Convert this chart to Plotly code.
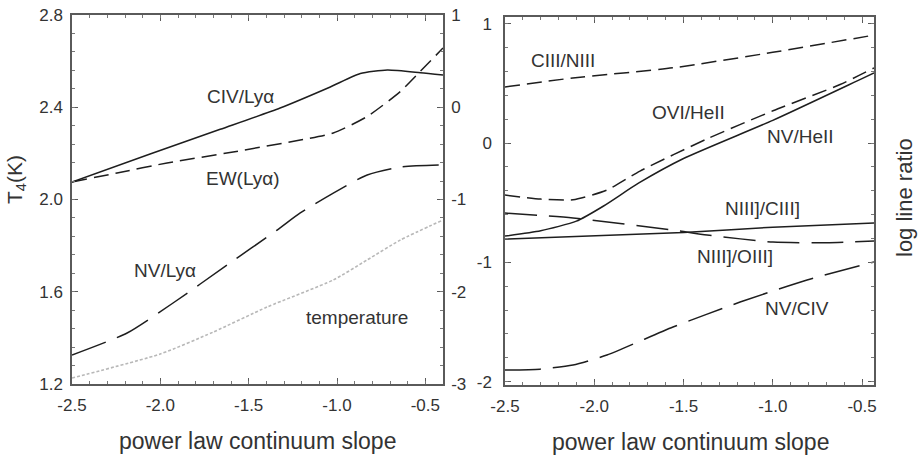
import plotly.graph_objects as go

# ---------------- data ----------------
# Left panel (x = power law continuum slope)
civ_x = [-2.5, -2.058, -1.661, -1.322, -1.038, -0.868, -0.715, -0.528, -0.4]
civ_y = [-0.81, -0.507, -0.239, -0.008, 0.22, 0.365, 0.404, 0.375, 0.35]

ew_x = [-2.5, -2.245, -1.962, -1.588, -1.208, -1.021, -0.829, -0.642, -0.528, -0.4]
ew_y = [-0.81, -0.713, -0.604, -0.485, -0.355, -0.279, -0.1, 0.17, 0.39, 0.642]

nvly_x = [-2.5, -2.188, -1.928, -1.622, -1.339, -1.208, -1.021, -0.829, -0.642, -0.4]
nvly_y = [-2.686, -2.447, -2.122, -1.71, -1.331, -1.146, -0.93, -0.734, -0.648, -0.626]

temp_x = [-2.5, -2.001, -1.701, -1.395, -1.021, -0.829, -0.642, -0.4]
temp_y = [1.226, 1.33, 1.425, 1.534, 1.651, 1.738, 1.824, 1.911]

# Right panel
ciii_x = [-2.5, -2.12, -1.56, -1.0, -0.43]
ciii_y = [0.47, 0.545, 0.63, 0.76, 0.905]

ovi_x = [-2.5, -2.3, -2.119, -1.929, -1.744, -1.368, -0.999, -0.623, -0.433]
ovi_y = [-0.436, -0.47, -0.475, -0.394, -0.235, 0.035, 0.27, 0.49, 0.629]

nvhe_x = [-2.5, -2.3, -2.1, -1.95, -1.75, -1.5, -1.0, -0.5, -0.433]
nvhe_y = [-0.78, -0.735, -0.655, -0.53, -0.335, -0.13, 0.19, 0.54, 0.587]

niiic_x = [-2.5, -1.5, -1.0, -0.43]
niiic_y = [-0.805, -0.75, -0.705, -0.67]

niiio_x = [-2.5, -2.119, -1.559, -1.368, -0.999, -0.7, -0.433]
niiio_y = [-0.587, -0.629, -0.729, -0.771, -0.83, -0.835, -0.821]

nvciv_x = [-2.5, -2.304, -2.119, -1.929, -1.559, -1.183, -0.808, -0.433]
nvciv_y = [-1.903, -1.895, -1.861, -1.777, -1.542, -1.333, -1.148, -0.997]

x_ticks = [-2.5, -2.0, -1.5, -1.0, -0.5]
x_ticktext = ["-2.5", "-2.0", "-1.5", "-1.0", "-0.5"]
t4_ticks = [1.2, 1.6, 2.0, 2.4, 2.8]
t4_ticktext = ["1.2", "1.6", "2.0", "2.4", "2.8"]
lr_ticks_left = [-3, -2, -1, 0, 1]
lr_ticktext_left = ["-3", "-2", "-1", "0", "1"]
lr_ticks_right = [-2, -1, 0, 1]
lr_ticktext_right = ["-2", "-1", "0", "1"]

# ---------------- figure ----------------
W, H = 918, 460
FONT = "Liberation Sans, Arial, Helvetica, sans-serif"
LINE = "#1e1e1e"
AX = "#5a5a5a"
TXT = "#333333"

L_X = [-2.5, -0.4]
L_T = [1.2, 2.8]
L_R = [-3, 1]
R_X = [-2.5, -0.433]
R_Y = [-2.028, 1.056]

def px(x):
    return x / W

def py(y):
    return 1 - y / H

fig = go.Figure()

def add(x, y, dash, xa, ya, color=LINE, width=1.5):
    fig.add_trace(go.Scatter(x=x, y=y, mode="lines", xaxis=xa, yaxis=ya,
                             line=dict(color=color, width=width, dash=dash,
                                       shape="spline", smoothing=0.6),
                             hoverinfo="skip", showlegend=False))

add(civ_x, civ_y, "solid", "x", "y2")
add(ew_x, ew_y, "15px,7px", "x", "y2")
add(nvly_x, nvly_y, "36px,12px", "x", "y2")
add(temp_x, temp_y, "3px,2px", "x", "y", color="#b8b8b8", width=1.6)

add(ciii_x, ciii_y, "15px,7px", "x2", "y3")
add(ovi_x, ovi_y, "15px,7px", "x2", "y3")
add(nvhe_x, nvhe_y, "solid", "x2", "y3")
add(niiic_x, niiic_y, "solid", "x2", "y3")
add(niiio_x, niiio_y, "32px,12px", "x2", "y3")
add(nvciv_x, nvciv_y, "36px,12px", "x2", "y3")

tickfont = dict(family=FONT, size=17, color=TXT)

common = dict(showline=True, linecolor=AX, linewidth=1.5, showgrid=False,
              zeroline=False, ticks="inside", ticklen=6, tickcolor=AX,
              tickwidth=1.2, tickfont=tickfont, automargin=False)

def minor_axis(rng, t0, d, **kw):
    return dict(range=rng, tickmode="linear", tick0=t0, dtick=d,
                ticks="inside", ticklen=3, tickcolor="#777777", tickwidth=1,
                showticklabels=False, showline=False, showgrid=False,
                zeroline=False, automargin=False, **kw)

fig.update_layout(
    width=W, height=H,
    margin=dict(l=0, r=0, t=0, b=0, autoexpand=False),
    paper_bgcolor="white", plot_bgcolor="white",
    font=dict(family=FONT, color=TXT),
    xaxis=dict(domain=[px(72), px(443)], range=L_X, anchor="y",
               tickvals=x_ticks, ticktext=x_ticktext, mirror="ticks",
               ticklabelstandoff=5, **common),
    yaxis=dict(domain=[py(384), py(15)], range=L_T, anchor="x",
               tickvals=t4_ticks, ticktext=t4_ticktext,
               ticklabelstandoff=4, **common),
    yaxis2=dict(overlaying="y", side="right", anchor="x", range=L_R,
                tickvals=lr_ticks_left, ticktext=lr_ticktext_left,
                ticklabelstandoff=3, **common),
    xaxis2=dict(domain=[px(505), px(874)], range=R_X, anchor="y3",
                tickvals=x_ticks, ticktext=x_ticktext, mirror="ticks",
                ticklabelstandoff=5, **common),
    yaxis3=dict(domain=[py(385), py(17)], range=R_Y, anchor="x2",
                tickvals=lr_ticks_right, ticktext=lr_ticktext_right, mirror="ticks",
                ticklabelstandoff=8, **common),
    # minor tick overlays
    xaxis3=minor_axis(L_X, -2.5, 0.1, overlaying="x", anchor="y", side="bottom", mirror="ticks"),
    yaxis4=minor_axis(L_T, 1.2, 0.08, overlaying="y", anchor="x", side="left"),
    yaxis5=minor_axis(L_R, -3, 0.2, overlaying="y", anchor="x", side="right"),
    xaxis4=minor_axis(R_X, -2.5, 0.1, overlaying="x2", anchor="y3", side="bottom", mirror="ticks"),
    yaxis6=minor_axis(R_Y, -2, 0.2, overlaying="y3", anchor="x2", side="left", mirror="ticks"),
)

# invisible traces to activate the minor-tick overlay axes
for xa, ya, xr, yr in [("x3", "y", L_X, L_T), ("x", "y4", L_X, L_T), ("x", "y5", L_X, L_R),
                       ("x4", "y3", R_X, R_Y), ("x2", "y6", R_X, R_Y)]:
    fig.add_trace(go.Scatter(x=[xr[0]], y=[yr[0]], mode="markers", xaxis=xa, yaxis=ya,
                             marker=dict(opacity=0, size=1), hoverinfo="skip",
                             showlegend=False))

def ann(text, x, y, size=19, angle=0):
    fig.add_annotation(text=text, x=px(x), y=py(y), xref="paper", yref="paper",
                       showarrow=False, textangle=angle,
                       font=dict(family=FONT, size=size, color=TXT),
                       xanchor="center", yanchor="middle")

# curve labels
ann("CIV/Lyα", 241, 96)
ann("EW(Lyα)", 243, 178)
ann("NV/Lyα", 165, 270)
ann("temperature", 357, 317)
ann("CIII/NIII", 563, 60)
ann("OVI/HeII", 688, 112)
ann("NV/HeII", 800, 137)
ann("NIII]/CIII]", 762, 208)
ann("NIII]/OIII]", 735, 256)
ann("NV/CIV", 797, 308)

# axis titles
ann("power law continuum slope", 257, 441, size=23)
ann("power law continuum slope", 690, 442, size=23)
ann("T<sub>4</sub>(K)", 16, 180, size=21, angle=-90)
ann("log line ratio", 905, 198, size=22, angle=-90)

fig.write_html("out.html")
